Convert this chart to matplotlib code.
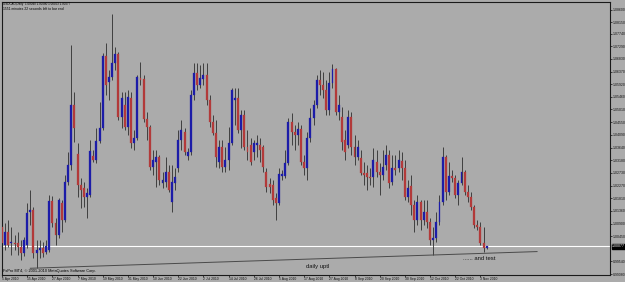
import matplotlib
matplotlib.use("Agg")
import matplotlib.pyplot as plt
import numpy as np
from matplotlib.transforms import blended_transform_factory

# ---------------- data ----------------
opens = [1.0078,1.0013,1.0060,1.0020,1.0020,1.0020,1.0006,0.9984,1.0013,1.0132,
         1.0139,0.9984,0.9995,1.0002,0.9988,0.9995,1.0171,1.0092,1.0049,1.0164,
         1.0103,1.0240,1.0301,1.0517,1.0341,1.0229,1.0218,1.0186,1.0193,1.0333,
         1.0319,1.0387,1.0434,1.0693,1.0600,1.0618,1.0668,1.0701,1.0474,1.0517,
         1.0438,1.0542,1.0380,1.0398,1.0614,1.0611,1.0467,1.0438,1.0294,1.0312,
         1.0330,1.0236,1.0240,1.0276,1.0168,1.0236,1.0290,1.0391,1.0420,1.0333,
         1.0348,1.0553,1.0632,1.0589,1.0611,1.0625,1.0535,1.0456,1.0416,1.0312,
         1.0366,1.0294,1.0319,1.0380,1.0535,1.0542,1.0427,1.0481,1.0366,1.0373,
         1.0348,1.0373,1.0373,1.0366,1.0276,1.0233,1.0229,1.0182,1.0164,1.0261,
         1.0261,1.0308,1.0456,1.0420,1.0409,1.0431,1.0312,1.0290,1.0398,1.0470,
         1.0517,1.0607,1.0589,1.0571,1.0499,1.0596,1.0647,1.0492,1.0474,1.0391,
         1.0373,1.0474,1.0366,1.0330,1.0326,1.0272,1.0272,1.0258,1.0258,1.0312,
         1.0276,1.0265,1.0301,1.0337,1.0240,1.0290,1.0290,1.0315,1.0290,1.0186,
         1.0225,1.0157,1.0103,1.0168,1.0103,1.0132,1.0096,1.0031,1.0038,1.0096,
         1.0168,1.0330,1.0204,1.0261,1.0254,1.0193,1.0236,1.0276,1.0204,1.0186,
         1.0150,1.0085,1.0078,1.0020,1.0004]
highs = [1.0092,1.0092,1.0103,1.0078,1.0049,1.0060,1.0031,1.0042,1.0164,1.0211,
         1.0150,1.0031,1.0031,1.0024,1.0031,1.0193,1.0189,1.0110,1.0182,1.0175,
         1.0265,1.0348,1.0733,1.0564,1.0380,1.0254,1.0240,1.0218,1.0391,1.0355,
         1.0434,1.0528,1.0704,1.0740,1.0643,1.0845,1.0726,1.0708,1.0564,1.0564,
         1.0571,1.0564,1.0427,1.0625,1.0672,1.0625,1.0492,1.0445,1.0355,1.0355,
         1.0337,1.0276,1.0330,1.0301,1.0301,1.0290,1.0427,1.0463,1.0434,1.0362,
         1.0571,1.0668,1.0668,1.0661,1.0668,1.0668,1.0553,1.0481,1.0463,1.0391,
         1.0391,1.0366,1.0438,1.0578,1.0578,1.0578,1.0499,1.0499,1.0427,1.0398,
         1.0391,1.0409,1.0398,1.0373,1.0290,1.0254,1.0247,1.0200,1.0290,1.0283,
         1.0355,1.0470,1.0488,1.0445,1.0456,1.0445,1.0337,1.0420,1.0506,1.0535,
         1.0625,1.0643,1.0636,1.0607,1.0636,1.0665,1.0650,1.0553,1.0510,1.0427,
         1.0499,1.0492,1.0409,1.0391,1.0355,1.0312,1.0301,1.0290,1.0362,1.0355,
         1.0308,1.0355,1.0373,1.0355,1.0337,1.0337,1.0355,1.0348,1.0319,1.0247,
         1.0265,1.0175,1.0193,1.0175,1.0175,1.0175,1.0110,1.0078,1.0132,1.0193,
         1.0366,1.0337,1.0312,1.0283,1.0265,1.0247,1.0330,1.0283,1.0229,1.0204,
         1.0157,1.0103,1.0096,1.0078,1.0008]
lows = [1.0013,0.9995,1.0006,0.9977,0.9995,0.9977,0.9959,0.9973,1.0002,1.0085,
        0.9966,0.9930,0.9966,0.9970,0.9981,0.9988,1.0078,1.0013,1.0038,1.0060,
        1.0096,1.0229,1.0283,1.0384,1.0186,1.0146,1.0150,1.0110,1.0186,1.0312,
        1.0308,1.0380,1.0427,1.0553,1.0535,1.0607,1.0643,1.0463,1.0434,1.0427,
        1.0409,1.0362,1.0355,1.0391,1.0589,1.0456,1.0391,1.0283,1.0265,1.0222,
        1.0229,1.0218,1.0222,1.0204,1.0132,1.0211,1.0276,1.0355,1.0337,1.0319,
        1.0337,1.0535,1.0571,1.0578,1.0589,1.0517,1.0438,1.0409,1.0294,1.0290,
        1.0276,1.0276,1.0283,1.0373,1.0445,1.0416,1.0362,1.0355,1.0319,1.0301,
        1.0319,1.0330,1.0312,1.0276,1.0204,1.0200,1.0157,1.0103,1.0157,1.0247,
        1.0254,1.0301,1.0373,1.0355,1.0373,1.0301,1.0265,1.0247,1.0384,1.0445,
        1.0506,1.0553,1.0542,1.0481,1.0481,1.0578,1.0481,1.0463,1.0355,1.0319,
        1.0362,1.0337,1.0301,1.0319,1.0265,1.0229,1.0211,1.0229,1.0222,1.0258,
        1.0193,1.0247,1.0283,1.0218,1.0229,1.0265,1.0276,1.0247,1.0175,1.0168,
        1.0121,1.0060,1.0085,1.0067,1.0085,1.0074,1.0013,0.9977,1.0024,1.0085,
        1.0157,1.0175,1.0193,1.0240,1.0182,1.0157,1.0229,1.0193,1.0168,1.0139,
        1.0074,1.0067,1.0013,0.9988,1.0000]
closes = [1.0020,1.0060,1.0013,1.0024,1.0017,1.0006,0.9984,1.0031,1.0128,1.0139,
          0.9984,0.9995,1.0002,0.9984,1.0009,1.0171,1.0092,1.0049,1.0175,1.0103,
          1.0240,1.0301,1.0517,1.0434,1.0229,1.0211,1.0186,1.0200,1.0351,1.0319,
          1.0387,1.0434,1.0693,1.0589,1.0618,1.0668,1.0701,1.0474,1.0542,1.0438,
          1.0546,1.0380,1.0398,1.0618,1.0607,1.0467,1.0438,1.0294,1.0319,1.0330,
          1.0247,1.0247,1.0276,1.0211,1.0240,1.0258,1.0391,1.0427,1.0348,1.0348,
          1.0553,1.0632,1.0589,1.0614,1.0625,1.0535,1.0456,1.0416,1.0330,1.0366,
          1.0294,1.0319,1.0380,1.0571,1.0542,1.0427,1.0481,1.0366,1.0348,1.0312,
          1.0380,1.0380,1.0355,1.0294,1.0222,1.0222,1.0175,1.0164,1.0269,1.0269,
          1.0308,1.0456,1.0420,1.0409,1.0431,1.0312,1.0290,1.0398,1.0470,1.0517,
          1.0607,1.0589,1.0571,1.0499,1.0596,1.0647,1.0492,1.0517,1.0384,1.0348,
          1.0474,1.0366,1.0330,1.0366,1.0272,1.0265,1.0258,1.0254,1.0319,1.0276,
          1.0265,1.0294,1.0337,1.0236,1.0290,1.0283,1.0319,1.0290,1.0186,1.0218,
          1.0157,1.0103,1.0168,1.0103,1.0132,1.0096,1.0031,1.0038,1.0096,1.0168,
          1.0330,1.0204,1.0261,1.0254,1.0193,1.0236,1.0276,1.0204,1.0186,1.0150,
          1.0085,1.0078,1.0020,1.0002,1.0008]

date_idx = [0, 8, 16, 24, 32, 40, 48, 56, 64, 72, 80, 88, 96, 104, 112, 120, 128, 136, 144, 152]
date_labels = ["5 Apr 2010", "15 Apr 2010", "27 Apr 2010", "7 May 2010", "19 May 2010",
               "31 May 2010", "10 Jun 2010", "22 Jun 2010", "2 Jul 2010", "14 Jul 2010",
               "26 Jul 2010", "5 Aug 2010", "17 Aug 2010", "27 Aug 2010", "8 Sep 2010",
               "20 Sep 2010", "30 Sep 2010", "12 Oct 2010", "22 Oct 2010", "3 Nov 2010"]
price_ticks = [1.08600, 1.08150, 1.07740, 1.07290, 1.06830, 1.06370, 1.05920, 1.05460,
               1.05010, 1.04550, 1.04090, 1.03640, 1.03180, 1.02730, 1.02270, 1.01810,
               1.01360, 1.00900, 1.00450, 0.99540, 0.99080]
price_labels = ["%.5f" % v for v in price_ticks]
bid_price = 1.00077
trend_idx = [11, 137]
trend_px = [0.9930, 0.9977]
trend_end = 170

# ---------------- figure ----------------
W, H = 625, 282
BG = "#ababab"
fig = plt.figure(figsize=(W / 100, H / 100), dpi=100)
fig.patch.set_facecolor(BG)
ax = fig.add_axes([2 / W, 7 / H, 608 / W, 273 / H])
ax.set_facecolor(BG)

px_per_bar = 3.15
x0 = (2 - 1.5) / px_per_bar
ax.set_xlim(x0, x0 + 608 / px_per_bar)
ax.set_ylim(0.99050, 1.08878)

o = np.array(opens); h = np.array(highs); l = np.array(lows); c = np.array(closes)
x = np.arange(len(o))
up = c >= o
ax.vlines(x, l, h, color="#2e2e2e", lw=0.6, zorder=2)
body_bot = np.minimum(o, c)
body_h = np.maximum(np.abs(c - o), 0.00025)
ax.bar(x[up], body_h[up], bottom=body_bot[up], width=0.62, color="#1c1ca8",
       edgecolor="#1c1ca8", lw=0.2, zorder=3)
ax.bar(x[~up], body_h[~up], bottom=body_bot[~up], width=0.62, color="#b23a3a",
       edgecolor="#b23a3a", lw=0.2, zorder=3)

# bid line
ax.axhline(bid_price, color="white", lw=0.8, zorder=1)

# trend line
slope = (trend_px[1] - trend_px[0]) / (trend_idx[1] - trend_idx[0])
tx = np.array([trend_idx[0] - 2, trend_end])
ty = trend_px[0] + slope * (tx - trend_idx[0])
ax.plot(tx, ty, color="#4a4a4a", lw=0.7, zorder=2)

# axes styling
for s in ax.spines.values():
    s.set_color("#1a1a1a")
    s.set_linewidth(0.8)
ax.yaxis.tick_right()
ax.set_yticks(price_ticks)
ax.set_yticklabels(price_labels, fontsize=2.5, family="Liberation Sans")
ax.tick_params(axis="y", length=1.5, width=0.5, pad=0.5, colors="#111111")
ax.set_xticks(date_idx)
ax.set_xticklabels(date_labels, fontsize=2.4, family="Liberation Sans", ha="left")
ax.tick_params(axis="x", length=1.2, width=0.5, pad=0.2, colors="#111111")

# current price box
tr = blended_transform_factory(ax.transAxes, ax.transData)
ax.text(1.0035, bid_price, "1.00077", transform=tr, fontsize=2.5, family="Liberation Sans",
        color="white", va="center", ha="left",
        bbox=dict(boxstyle="square,pad=0.15", fc="black", ec="black"), clip_on=False)

# annotations
ax.text(96.7, 0.9934, "daily uptl", fontsize=4.2, family="Liberation Sans",
        color="#111111", va="center", ha="left")
ax.text(146.5, 0.9963, "...... and test", fontsize=4.2, family="Liberation Sans",
        color="#111111", va="center", ha="left")

# header and footer
fig.text(3 / W, 1 - 4 / H, "USDCAD,Daily  1.00040 1.00080 1.00003 1.00077",
         fontsize=2.2, family="Liberation Sans", color="black", va="center", ha="left")
fig.text(3 / W, 1 - 8.5 / H, "1551 minutes 22 seconds left to bar end",
         fontsize=2.4, family="Liberation Sans", color="black", va="center", ha="left")
fig.text(3 / W, 1 - 271 / H, "FxPro MT4, \u00a9 2001-2010 MetaQuotes Software Corp.",
         fontsize=2.8, family="Liberation Sans", color="black", va="center", ha="left")

fig.savefig("out.png", dpi=100, facecolor=BG)
